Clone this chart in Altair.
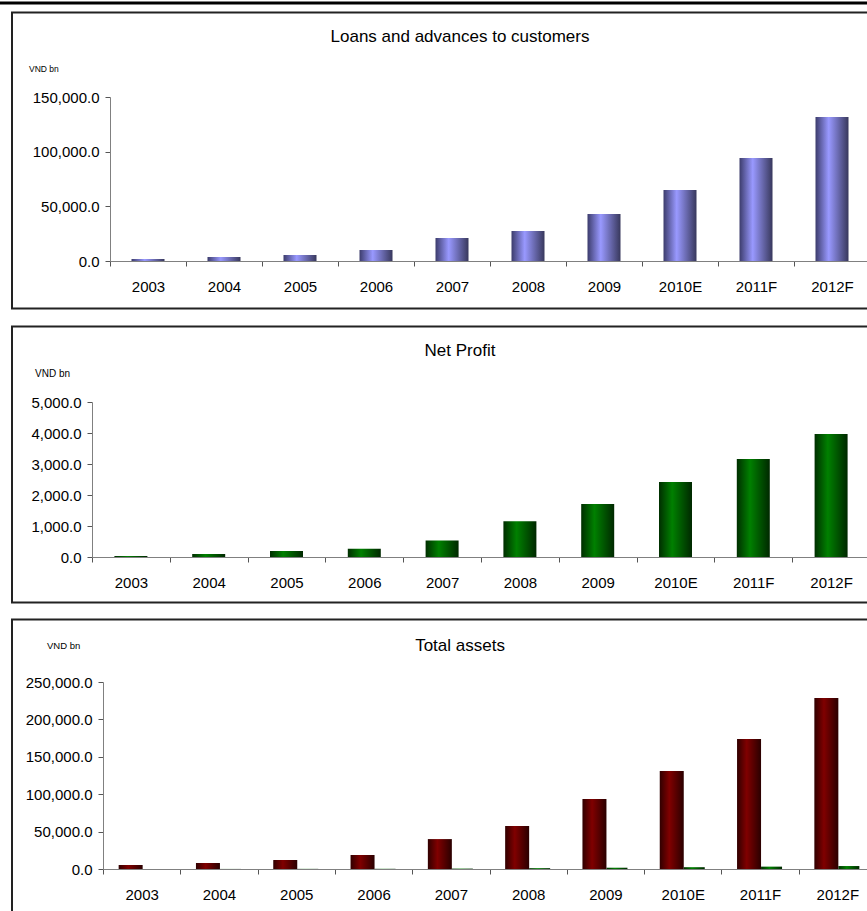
import altair as alt
import pandas as pd

# Bank fundamentals, VND bn
years = ["2003", "2004", "2005", "2006", "2007", "2008", "2009", "2010E", "2011F", "2012F"]
loans = [1800, 3700, 5500, 10000, 21000, 27500, 43000, 65000, 94200, 131700]
net_profit = [30, 100, 190, 270, 530, 1150, 1710, 2420, 3160, 3970]
total_assets = [5300, 8000, 12000, 18700, 40000, 57500, 93600, 131000, 173800, 228600]

loan_ticks = [0, 50000, 100000, 150000]
profit_ticks = [0, 1000, 2000, 3000, 4000, 5000]
asset_ticks = [0, 50000, 100000, 150000, 200000, 250000]

W, H = 867, 911
FONT = "Liberation Sans"

df = pd.DataFrame({"year": years, "loans": loans, "profit": net_profit, "assets": total_assets})


def grad(left, mid, right):
    # horizontal shading that gives each bar a cylinder look
    return alt.LinearGradient(
        gradient="linear", x1=0, x2=1, y1=0, y2=0,
        stops=[alt.GradientStop(color=left, offset=0),
               alt.GradientStop(color=mid, offset=0.4),
               alt.GradientStop(color=right, offset=1)])


BLUE = grad("#3c3c6c", "#9999ff", "#38385c")
GREEN = grad("#002e00", "#008000", "#002800")
RED = grad("#300000", "#800000", "#2a0000")


def x_enc(x0, x1, axis_y):
    return alt.X(
        "year:N", sort=years, title=None,
        scale=alt.Scale(domain=years, range=[x0, x1], paddingInner=0, paddingOuter=0),
        axis=alt.Axis(orient="bottom", offset=-(H - axis_y), labelAngle=0, tickBand="extent",
                      tickSize=5, labelPadding=13, labelFontSize=15, labelFont=FONT,
                      labelColor="black", domainColor="#808080", tickColor="#555555",
                      grid=False))


def y_enc(field, top, ticks, y0, y1, axis_x):
    return alt.Y(
        f"{field}:Q", title=None,
        scale=alt.Scale(domain=[0, top], range=[y0, y1], nice=False, zero=True),
        axis=alt.Axis(orient="left", offset=-axis_x, values=ticks, format=",.1f",
                      tickSize=5, labelPadding=6, labelFontSize=15, labelFont=FONT,
                      labelColor="black", domainColor="#808080", tickColor="#555555",
                      grid=False))


base = alt.Chart(df)

loans_bars = base.mark_bar(width=33, color=BLUE).encode(
    x=x_enc(110, 870, 261), y=y_enc("loans", 150000, loan_ticks, 261, 97, 110))

profit_bars = base.mark_bar(width=33, color=GREEN).encode(
    x=x_enc(92, 870, 557), y=y_enc("profit", 5000, profit_ticks, 557, 402, 92))

assets_bars = base.mark_bar(width=24, xOffset=-11, color=RED).encode(
    x=x_enc(103, 876, 869), y=y_enc("assets", 250000, asset_ticks, 869, 682, 103))

assets_profit_bars = base.mark_bar(width=21, xOffset=11.5, color=GREEN).encode(
    x=alt.X("year:N", sort=years, scale=alt.Scale(domain=years, range=[103, 876], paddingInner=0, paddingOuter=0), axis=None),
    y=alt.Y("profit:Q", scale=alt.Scale(domain=[0, 250000], range=[869, 682], nice=False, zero=True), axis=None))


def one():
    return alt.Chart(alt.Data(values=[{"k": 1}]))


def hline(y, x0, x1, width=2, color="#222222"):
    return one().mark_rule(strokeWidth=width, color=color).encode(
        x=alt.value(x0), x2=alt.value(x1), y=alt.value(y))


def vline(x, y0, y1, width=2, color="#222222"):
    return one().mark_rule(strokeWidth=width, color=color).encode(
        x=alt.value(x), y=alt.value(y0), y2=alt.value(y1))


def label(text, x, y, size, align="center"):
    return one().mark_text(text=text, font=FONT, fontSize=size, align=align,
                           baseline="middle", color="black").encode(
        x=alt.value(x), y=alt.value(y))


frames = [
    hline(3, 0, W, width=3, color="black"),
    # panel 1
    hline(12.5, 11, W), vline(12, 12, 309), hline(308.5, 11, W),
    # panel 2
    hline(326.5, 11, W), vline(12, 326, 603), hline(602.5, 11, W),
    # panel 3
    hline(619.5, 11, W), vline(12, 619, H),
]

texts = [
    label("Loans and advances to customers", 460, 37, 17),
    label("VND bn", 29, 69, 8.5, align="left"),
    label("Net Profit", 460, 351, 17),
    label("VND bn", 35, 374, 10, align="left"),
    label("Total assets", 460, 646, 17),
    label("VND bn", 47, 646, 9.5, align="left"),
]

chart = alt.layer(
    *frames, loans_bars, profit_bars, assets_bars, assets_profit_bars, *texts
).resolve_scale(x="independent", y="independent").resolve_axis(
    x="independent", y="independent"
).properties(
    width=W, height=H, autosize=alt.AutoSizeParams(type="none"), padding=0,
    background="white"
).configure_view(stroke=None)

chart.save("out.html", embed_options={"renderer": "svg", "actions": False})
